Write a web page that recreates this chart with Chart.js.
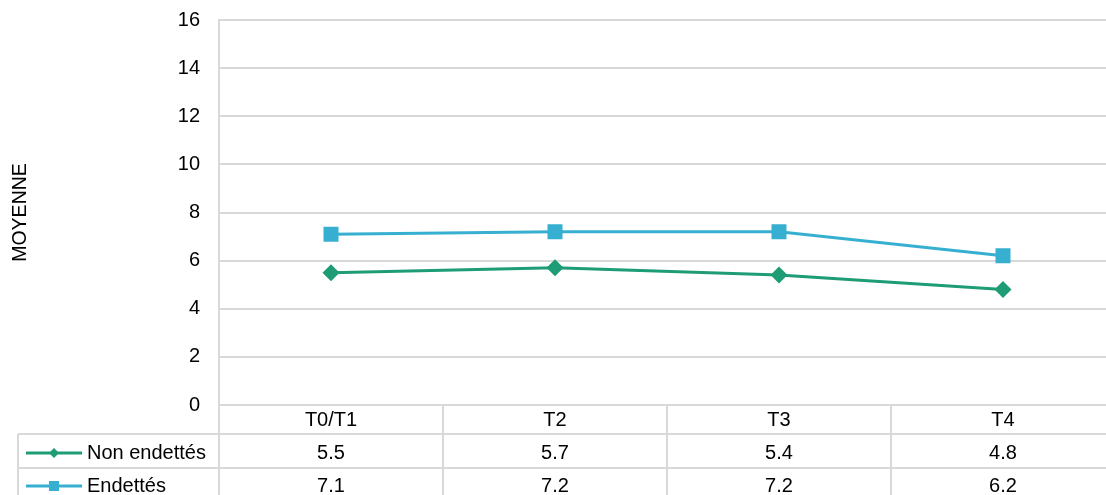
<!DOCTYPE html>
<html>
<head>
<meta charset="utf-8">
<script src="https://cdn.jsdelivr.net/npm/chart.js@4.4.1/dist/chart.umd.min.js"></script>
<style>
html,body{margin:0;padding:0;background:#fff;overflow:hidden;width:1106px;height:495px;}
#wrap{position:absolute;left:0;top:0;width:1115px;height:495px;}
</style>
</head>
<body>
<div id="wrap"><canvas id="c" width="1115" height="495" style="width:1115px;height:495px;"></canvas></div>
<script>
const categories = ['T0/T1', 'T2', 'T3', 'T4'];
const nonEndettes = [5.5, 5.7, 5.4, 4.8];
const endettes = [7.1, 7.2, 7.2, 6.2];
const seriesNames = ['Non endettés', 'Endettés'];
const yAxisTitle = 'MOYENNE';
const yMin = 0, yMax = 16, yStep = 2;

const GREEN = '#1e9c75';
const BLUE = '#37afd0';
const GRID = '#d9d9d9';
const FONT = '"Liberation Sans", Arial, sans-serif';
const TXT = '#000000';
const FS = 20;

const tablePlugin = {
  id: 'dataTable',
  afterDraw(chart) {
    const ctx = chart.ctx;
    const xs = chart.scales.x;
    const ca = chart.chartArea;
    const left = ca.left, right = chart.width;
    const tableLeft = 18;
    const rowTop = ca.bottom;
    const row1Top = rowTop + 29;
    const row2Top = rowTop + 63;
    const bottom = chart.height;
    ctx.save();
    ctx.strokeStyle = GRID;
    ctx.lineWidth = 2;
    ctx.beginPath();
    ctx.moveTo(left, rowTop); ctx.lineTo(right, rowTop);
    ctx.moveTo(tableLeft, row1Top); ctx.lineTo(right, row1Top);
    ctx.moveTo(tableLeft, row2Top); ctx.lineTo(right, row2Top);
    ctx.moveTo(tableLeft, row1Top); ctx.lineTo(tableLeft, bottom);
    ctx.moveTo(left, rowTop); ctx.lineTo(left, bottom);
    const half = (xs.getPixelForValue(1) - xs.getPixelForValue(0)) / 2;
    for (let i = 0; i < categories.length; i++) {
      const b = xs.getPixelForValue(i) + half;
      ctx.moveTo(b, rowTop); ctx.lineTo(b, bottom);
    }
    ctx.stroke();

    ctx.fillStyle = TXT;
    ctx.font = FS + 'px ' + FONT;
    ctx.textBaseline = 'middle';
    ctx.textAlign = 'center';
    const series = [nonEndettes, endettes];
    const rowY = [rowTop + 15, row1Top + 19, row2Top + 18];
    categories.forEach((c, i) => {
      const x = xs.getPixelForValue(i);
      ctx.fillText(c, x, rowY[0]);
      series.forEach((s, k) => ctx.fillText(s[i].toFixed(1), x, rowY[k + 1]));
    });
    const colors = [GREEN, BLUE];
    seriesNames.forEach((n, k) => {
      const y = rowY[k + 1];
      ctx.strokeStyle = colors[k];
      ctx.lineWidth = 3;
      ctx.beginPath();
      ctx.moveTo(26, y); ctx.lineTo(82, y);
      ctx.stroke();
      ctx.fillStyle = colors[k];
      if (k === 0) {
        ctx.beginPath();
        ctx.moveTo(54, y - 5); ctx.lineTo(59, y); ctx.lineTo(54, y + 5); ctx.lineTo(49, y);
        ctx.closePath(); ctx.fill();
      } else {
        ctx.fillRect(49, y - 5, 10, 10);
      }
      ctx.fillStyle = TXT;
      ctx.textAlign = 'left';
      ctx.fillText(n, 87, y);
    });
    ctx.restore();
  }
};

new Chart(document.getElementById('c'), {
  type: 'line',
  data: {
    labels: categories,
    datasets: [
      {
        label: seriesNames[0], data: nonEndettes,
        borderColor: GREEN, backgroundColor: GREEN, borderWidth: 3,
        pointStyle: 'rectRot', pointRadius: 8.5, pointHoverRadius: 8.5,
        pointBorderWidth: 0, tension: 0
      },
      {
        label: seriesNames[1], data: endettes,
        borderColor: BLUE, backgroundColor: BLUE, borderWidth: 3,
        pointStyle: 'rect', pointRadius: 10.6, pointHoverRadius: 10.6,
        pointBorderWidth: 0, tension: 0
      }
    ]
  },
  options: {
    responsive: false,
    animation: false,
    devicePixelRatio: 1,
    layout: { autoPadding: false, padding: { top: 20, bottom: 90, left: 0, right: 0 } },
    plugins: { legend: { display: false }, tooltip: { enabled: false } },
    scales: {
      x: { type: 'category', offset: true, display: false },
      y: {
        min: yMin, max: yMax,
        ticks: { stepSize: yStep, padding: 19, color: TXT, font: { family: FONT, size: FS } },
        grid: { color: GRID, lineWidth: 2, drawTicks: false },
        border: { display: true, color: GRID, width: 2 },
        title: { display: true, text: yAxisTitle, color: TXT, font: { family: FONT, size: 19.5 }, padding: { top: 9, bottom: 0 } },
        afterFit(scale) {
          scale.width = 219;
          scale.paddingTop = 0;
          scale.paddingBottom = 0;
        }
      }
    }
  },
  plugins: [tablePlugin]
});
</script>
</body>
</html>
